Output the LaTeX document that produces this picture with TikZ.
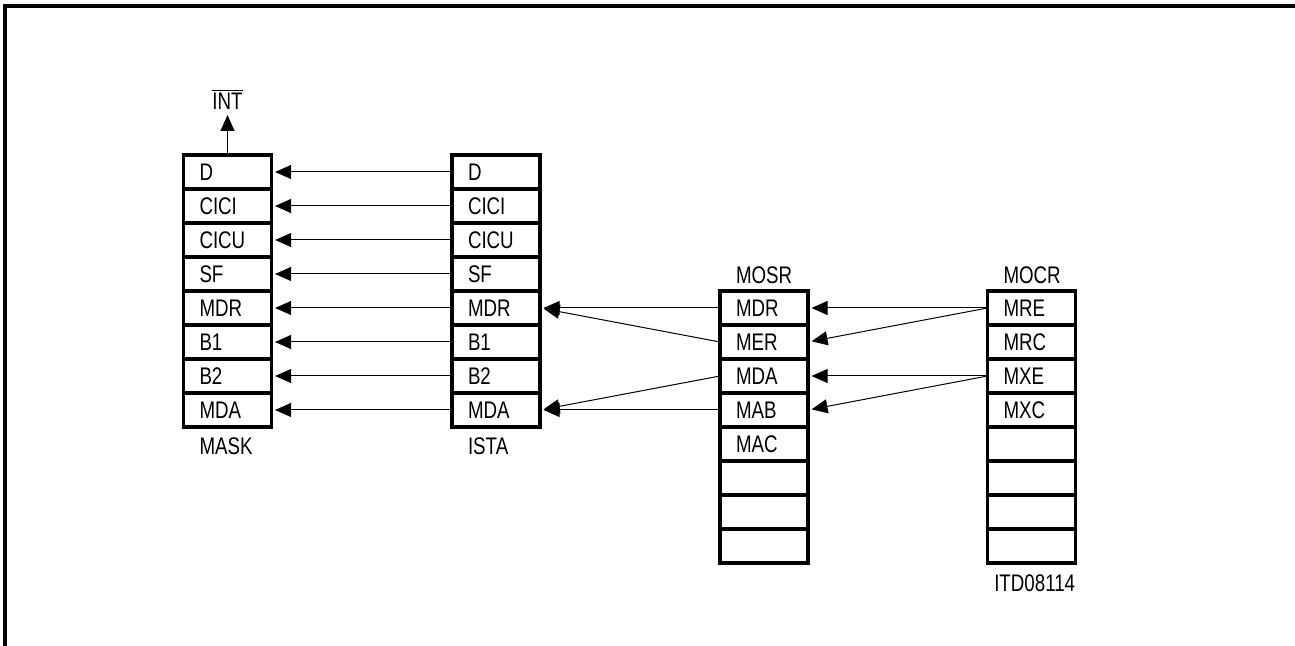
\documentclass[tikz,border=0pt]{standalone}
\usepackage{fontspec}
\setmainfont{Liberation Sans}[FakeStretch=0.78]
\usetikzlibrary{arrows.meta, positioning}

\begin{document}
\begin{tikzpicture}[x=0.5pt, y=-0.5pt,
    font=\fontsize{12}{14}\selectfont,
    cell/.style={draw, line width=1.8pt, minimum width=44pt, minimum height=17pt,
        inner xsep=8pt, inner ysep=0pt, outer sep=0pt, text width=28pt, align=left,
        text height=8.6pt, text depth=0pt},
    reglabel/.style={inner xsep=8pt, inner ysep=0pt, text width=28pt, align=left},
    link/.style={line width=0.5pt, -{Triangle[length=8pt, width=7pt]}, shorten >=1.8pt}]
    % Frame
    \useasboundingbox (0,0) rectangle (1295,646);
    \draw[line width=1.6pt] (5,660) |- (1310,6);

    % MASK and ISTA
    \foreach \lbl [count=\i] in {D,CICI,CICU,SF,MDR,B1,B2,MDA} {
        \node[cell] (mask\i) at (227.5,{138+34*\i}) {\lbl};
        \node[cell] (ista\i) at (496,{138+34*\i}) {\lbl};
    }

    % MOSR
    \foreach \lbl [count=\i] in {MDR,MER,MDA,MAB,MAC,{},{},{}}
        \node[cell] (mosr\i) at (764,{274+34*\i}) {\lbl};

    % MOCR
    \foreach \lbl [count=\i] in {MRE,MRC,MXE,MXC,{},{},{},{}}
        \node[cell] (mocr\i) at (1031.5,{274+34*\i}) {\lbl};

    % Register names
    \node[reglabel, below=5pt of mask8] (masklbl) {MASK};
    \node[reglabel, below=5pt of ista8] (istalbl) {ISTA};
    \node[reglabel, above=3.5pt of mosr1] (mosrlbl) {MOSR};
    \node[reglabel, above=3.5pt of mocr1] (mocrlbl) {MOCR};
    \node[inner sep=0pt, below left=5.5pt and 0pt of mocr8.south east] (code) {ITD08114};

    % Interrupt output
    \node[inner sep=0pt, above=22.5pt of mask1] (int) {$\overline{\mbox{INT}}$};
    \draw[link, shorten >=2.5pt] (mask1) -- (int);

    % ISTA to MASK
    \foreach \i in {1,...,8}
        \draw[link] (ista\i) -- (mask\i);

    % MOSR to ISTA
    \draw[link] (mosr1.west) -- (ista5.east);
    \draw[link] (mosr2.west) -- (ista5.east);
    \draw[link] (mosr3.west) -- (ista8.east);
    \draw[link] (mosr4.west) -- (ista8.east);

    % MOCR to MOSR
    \draw[link] (mocr1.west) -- (mosr1.east);
    \draw[link] (mocr1.west) -- (mosr2.east);
    \draw[link] (mocr3.west) -- (mosr3.east);
    \draw[link] (mocr3.west) -- (mosr4.east);
\end{tikzpicture}
\end{document}
